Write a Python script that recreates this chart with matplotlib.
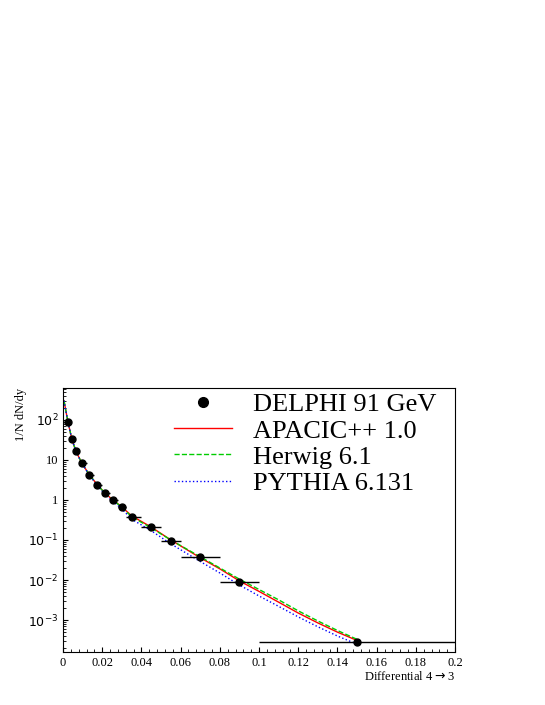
import matplotlib
matplotlib.use("Agg")
import matplotlib.pyplot as plt
import numpy as np
from matplotlib.lines import Line2D

plt.rcParams['font.family'] = ['Liberation Serif', 'DejaVu Serif']

x_data = [0.0025, 0.0045, 0.0065, 0.0095, 0.0135, 0.0175, 0.0215, 0.0255, 0.030, 0.035, 0.045, 0.055, 0.070, 0.090, 0.150]
x_lo = [0.001, 0.004, 0.005, 0.008, 0.012, 0.016, 0.020, 0.024, 0.028, 0.032, 0.040, 0.050, 0.060, 0.080, 0.100]
x_hi = [0.004, 0.005, 0.008, 0.012, 0.016, 0.020, 0.024, 0.028, 0.032, 0.040, 0.050, 0.060, 0.080, 0.100, 0.200]
y_data = [90, 33, 17, 8.4, 4.2, 2.4, 1.45, 1.0, 0.67, 0.37, 0.21, 0.095, 0.037, 0.009, 0.00028]

x_curve = [0.0005, 0.0025, 0.0045, 0.0065, 0.0095, 0.0135, 0.0175, 0.0215, 0.0255, 0.030, 0.035, 0.045, 0.055, 0.070, 0.080, 0.090, 0.100, 0.110, 0.120, 0.130, 0.140, 0.150]
y_apacic = [300, 90, 33, 17, 8.4, 4.2, 2.4, 1.45, 1.0, 0.67, 0.40, 0.21, 0.10, 0.036, 0.019, 0.0095, 0.0052, 0.0028, 0.0015, 0.00085, 0.00050, 0.00031]
y_herwig = [300, 90, 33, 17, 8.4, 4.2, 2.4, 1.45, 1.0, 0.65, 0.38, 0.20, 0.10, 0.038, 0.020, 0.0105, 0.0058, 0.0032, 0.0017, 0.00095, 0.00055, 0.00033]
y_pythia = [300, 90, 33, 17, 8.4, 4.1, 2.3, 1.35, 0.92, 0.60, 0.33, 0.17, 0.080, 0.029, 0.015, 0.0075, 0.0040, 0.0022, 0.0012, 0.00068, 0.00040, 0.00025]

fig = plt.figure(figsize=(5.45, 7.05), dpi=100)
ax = fig.add_axes([0.1156, 0.075, 0.7194, 0.375])
ax.set_yscale('log')
ax.set_xlim(0, 0.2)
ax.set_ylim(10**-3.8, 10**2.8)

ax.plot(x_curve, y_apacic, color='red', lw=1)
ax.plot(x_curve, y_herwig, color='#00cc00', lw=1, ls='--')
ax.plot(x_curve, y_pythia, color='blue', lw=1, ls=':')
xd = np.array(x_data)
ax.errorbar(xd, y_data, xerr=[xd - np.array(x_lo), np.array(x_hi) - xd], fmt='o', color='black',
            ms=5, elinewidth=1, capsize=0, zorder=5)

handles = [Line2D([], [], ls='none', marker='o', color='black', ms=7),
           Line2D([], [], color='red', lw=1),
           Line2D([], [], color='#00cc00', lw=1, ls='--'),
           Line2D([], [], color='blue', lw=1, ls=':')]
labels = ['DELPHI 91 GeV', 'APACIC++ 1.0', 'Herwig 6.1', 'PYTHIA 6.131']
ax.legend(handles, labels, loc='upper right', frameon=False, fontsize=19, handlelength=2.2,
          borderaxespad=0.0, labelspacing=0.1, bbox_to_anchor=(0.98, 1.02))

ax.set_xticks(np.arange(0, 0.201, 0.02))
ax.set_xticklabels(['0', '0.02', '0.04', '0.06', '0.08', '0.1', '0.12', '0.14', '0.16', '0.18', '0.2'])
ax.set_xticks(np.arange(0, 0.201, 0.004), minor=True)
ax.set_yticks([1e-3, 1e-2, 1e-1, 1, 10, 100])
ax.set_yticklabels(['$10^{-3}$', '$10^{-2}$', '$10^{-1}$', '1', '10', '$10^{2}$'])
ax.tick_params(labelsize=9, direction='in', top=False, right=False)
ax.tick_params(which='minor', direction='in')
ax.set_xlabel('Differential 4$\\rightarrow$3', fontsize=9, loc='right', labelpad=1)
ax.set_ylabel('1/N dN/dy', fontsize=9, loc='top', labelpad=1)

fig.savefig('out.png', dpi=100)
